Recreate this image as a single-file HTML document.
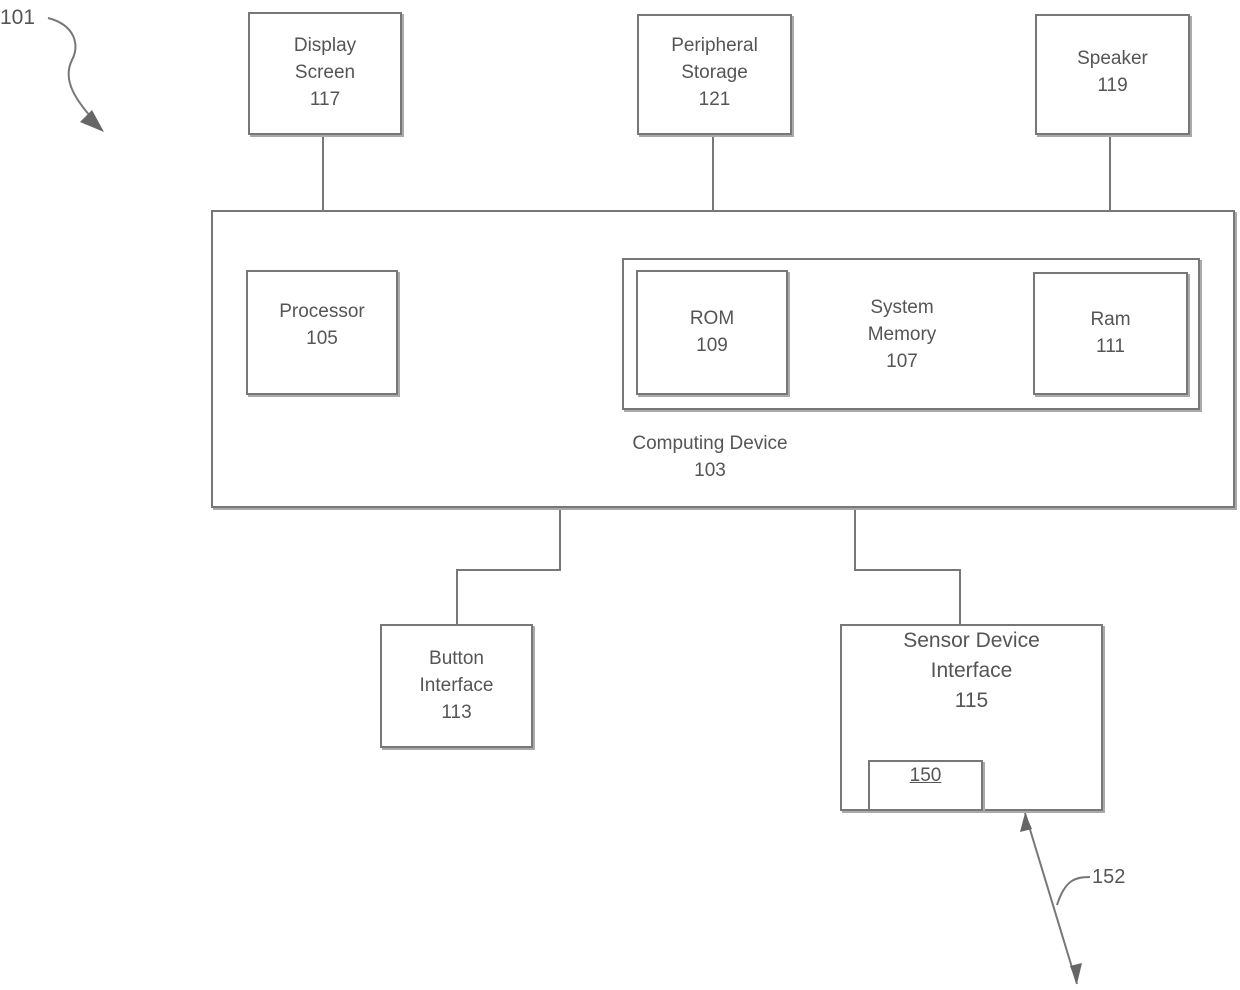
<!DOCTYPE html>
<html><head><meta charset="utf-8"><style>
html,body{margin:0;padding:0;background:#fff;}
body{width:1240px;height:990px;position:relative;overflow:hidden;font-family:"Liberation Sans",sans-serif;color:#555;}
.b{position:absolute;border:2px solid #777;box-sizing:border-box;box-shadow:2px 2px 0 #aaa;}
.t{position:absolute;text-align:center;font-size:19px;line-height:27px;color:#555;}
</style></head><body>
<svg width="1240" height="990" style="position:absolute;left:0;top:0">
<g stroke="#777" stroke-width="2" fill="none">
<line x1="323" y1="135" x2="323" y2="210"/>
<line x1="713" y1="135" x2="713" y2="210"/>
<line x1="1110" y1="135" x2="1110" y2="210"/>
<polyline points="560,508 560,570 457,570 457,624"/>
<polyline points="855,508 855,570 960,570 960,624"/>
<line x1="1025" y1="813" x2="1077" y2="984"/>
<path d="M1090,877 C1075,877 1065,880 1057,905"/>
<path d="M48,18 C75,25 80,45 72,60 C62,80 75,100 98,125"/>
</g>
<g fill="#666">
<polygon points="1025,813 1020,832 1032,829"/>
<polygon points="1077,984 1070,966 1082,963"/>
<polygon points="104,132 80,122 92,110"/>
</g>
</svg>
<div class="t" style="left:0;top:4px;font-size:21px">101</div>
<div class="b" style="left:248px;top:12px;width:154px;height:123px"></div>
<div class="t" style="left:248px;top:32px;width:154px">Display<br>Screen<br>117</div>
<div class="b" style="left:637px;top:14px;width:155px;height:121px"></div>
<div class="t" style="left:637px;top:32px;width:155px">Peripheral<br>Storage<br>121</div>
<div class="b" style="left:1035px;top:14px;width:155px;height:121px"></div>
<div class="t" style="left:1035px;top:45px;width:155px">Speaker<br>119</div>
<div class="b" style="left:211px;top:210px;width:1024px;height:298px"></div>
<div class="b" style="left:246px;top:270px;width:152px;height:125px"></div>
<div class="t" style="left:246px;top:298px;width:152px">Processor<br>105</div>
<div class="b" style="left:622px;top:258px;width:578px;height:152px"></div>
<div class="b" style="left:636px;top:270px;width:152px;height:125px"></div>
<div class="t" style="left:636px;top:305px;width:152px">ROM<br>109</div>
<div class="t" style="left:822px;top:294px;width:160px">System<br>Memory<br>107</div>
<div class="b" style="left:1033px;top:272px;width:155px;height:123px"></div>
<div class="t" style="left:1033px;top:306px;width:155px">Ram<br>111</div>
<div class="t" style="left:600px;top:430px;width:220px">Computing Device<br>103</div>
<div class="b" style="left:380px;top:624px;width:153px;height:124px"></div>
<div class="t" style="left:380px;top:645px;width:153px">Button<br>Interface<br>113</div>
<div class="b" style="left:840px;top:624px;width:263px;height:187px"></div>
<div class="t" style="left:840px;top:626px;width:263px;font-size:21px;line-height:30px">Sensor Device<br>Interface<br>115</div>
<div class="b" style="left:868px;top:760px;width:115px;height:51px"></div>
<div class="t" style="left:868px;top:762px;width:115px;text-decoration:underline">150</div>
<div class="t" style="left:1092px;top:864px;font-size:20px">152</div>
</body></html>
